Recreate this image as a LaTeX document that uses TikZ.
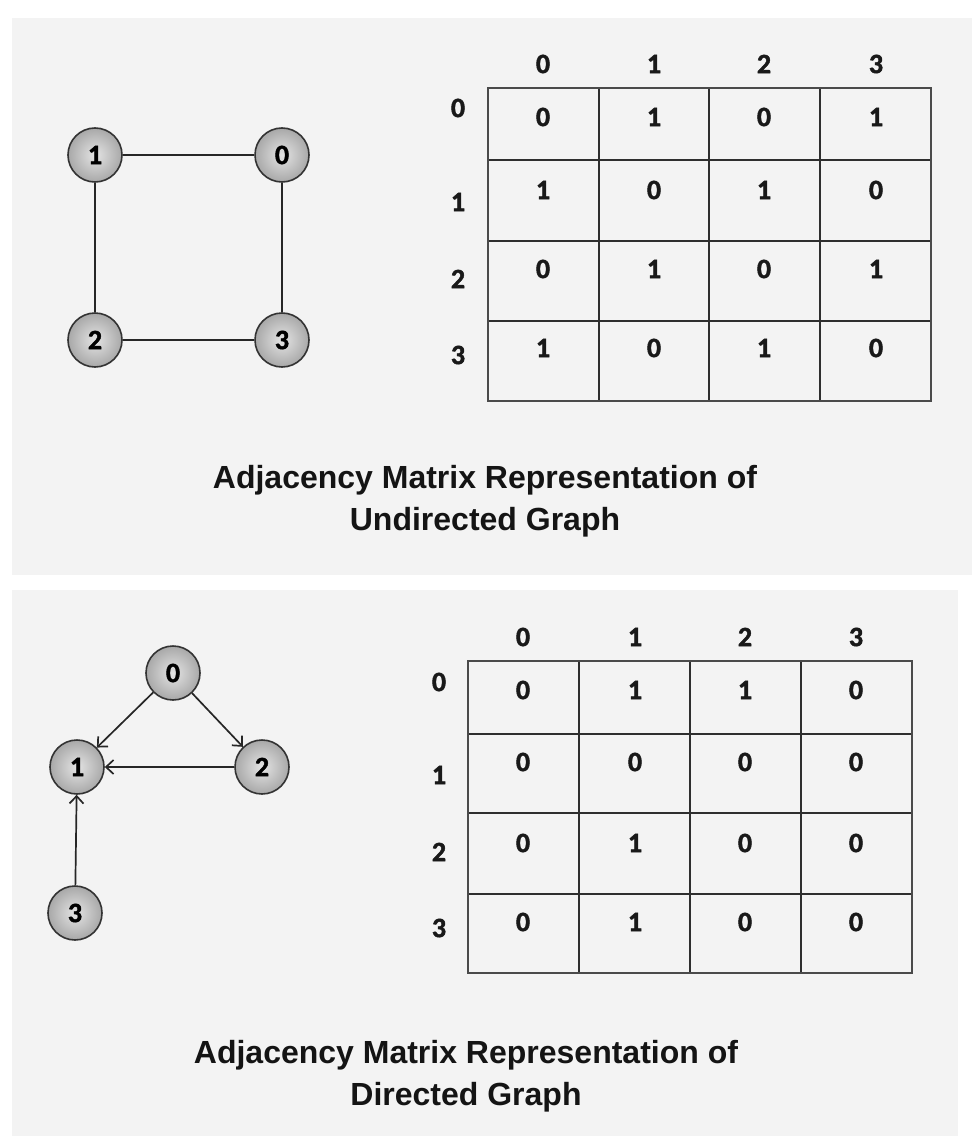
\documentclass[tikz,border=0pt]{standalone}
\usepackage{fontspec}
\setmainfont{Liberation Sans}
\newfontfamily\digitfont[BoldFeatures={FakeBold=1.6}]{Carlito}
\usetikzlibrary{arrows.meta}
\definecolor{panelbg}{HTML}{F3F3F3}
\definecolor{gridline}{HTML}{2E2E2E}
\definecolor{gridouter}{HTML}{4A4A4A}
\definecolor{nodeborder}{HTML}{333333}
\definecolor{nodeinner}{HTML}{E4E4E4}
\definecolor{nodeouter}{HTML}{A8A8A8}
\begin{document}
\begin{tikzpicture}[x=1pt,y=-1pt,
  vertex/.style={circle, minimum size=54pt, inner sep=0pt, draw=nodeborder, line width=1.6pt,
    inner color=nodeinner, outer color=nodeouter, font=\digitfont\bfseries\fontsize{28}{28}\selectfont},
  digit/.style={inner sep=0pt, font=\digitfont\bfseries\fontsize{28}{28}\selectfont, text=black!90},
  edge/.style={line width=1.7pt, draw=black!85},
  arc/.style={edge, -{Straight Barb[length=7.5pt,width=14pt]}},
  gridl/.style={line width=2pt, draw=gridline},
  gridb/.style={line width=2.6pt, draw=gridouter},
  title/.style={align=center, font=\bfseries\fontsize{32}{42}\selectfont, inner sep=0pt, text=black!92}]
\useasboundingbox (0,0) rectangle (972,1142);
\fill[white] (0,0) rectangle (972,1142);
\fill[panelbg] (12,18) rectangle (972,575);
\fill[panelbg] (12,590) rectangle (958,1136);

% ---------- top: undirected graph ----------
\node[vertex] (t1) at (95,155) {1};
\node[vertex] (t0) at (282,155) {0};
\node[vertex] (t2) at (95,340) {2};
\node[vertex] (t3) at (282,340) {3};
\draw[edge] (t1) -- (t0);
\draw[edge] (t1) -- (t2);
\draw[edge] (t0) -- (t3);
\draw[edge] (t2) -- (t3);

% top matrix grid
\foreach \x in {599,709,820} \draw[gridl] (\x,88) -- (\x,401);
\foreach \y in {160,241,321} \draw[gridl] (488,\y) -- (931,\y);
\draw[gridb] (488,88) rectangle (931,401);
% headers
\foreach \c/\x in {0/543,1/654,2/764,3/876} \node[digit] (tc\c) at (\x,64) {\c};
\foreach \r/\y in {0/108,1/202,2/279,3/355} \node[digit] (tr\r) at (458,\y) {\r};
% entries
\foreach \r/\y/\a/\b/\c/\d in {0/117/0/1/0/1, 1/190/1/0/1/0, 2/269/0/1/0/1, 3/348/1/0/1/0}{
  \node[digit] (te\r0) at (543,\y) {\a};
  \node[digit] (te\r1) at (654,\y) {\b};
  \node[digit] (te\r2) at (764,\y) {\c};
  \node[digit] (te\r3) at (876,\y) {\d};
}
\node[title] (ttitle) at (485,501) {Adjacency Matrix Representation of\\Undirected Graph};

% ---------- bottom: directed graph ----------
\node[vertex] (b0) at (173,673) {0};
\node[vertex] (b1) at (77,767) {1};
\node[vertex] (b2) at (262,767) {2};
\node[vertex] (b3) at (75,913) {3};
\draw[arc] (b0) -- (b1);
\draw[arc] (b0) -- (b2);
\draw[arc] (b2) -- (b1);
\draw[arc] (b3) -- (b1);

% bottom matrix grid
\foreach \x in {579,690,801} \draw[gridl] (\x,661) -- (\x,973);
\foreach \y in {734,813,894} \draw[gridl] (468,\y) -- (912,\y);
\draw[gridb] (468,661) rectangle (912,973);
\foreach \c/\x in {0/523,1/635,2/745,3/856} \node[digit] (bc\c) at (\x,637) {\c};
\foreach \r/\y in {0/682,1/775,2/852,3/928} \node[digit] (br\r) at (439,\y) {\r};
\foreach \r/\y/\a/\b/\c/\d in {0/690/0/1/1/0, 1/762/0/0/0/0, 2/843/0/1/0/0, 3/922/0/1/0/0}{
  \node[digit] (be\r0) at (523,\y) {\a};
  \node[digit] (be\r1) at (635,\y) {\b};
  \node[digit] (be\r2) at (745,\y) {\c};
  \node[digit] (be\r3) at (856,\y) {\d};
}
\node[title] (btitle) at (466,1076) {Adjacency Matrix Representation of\\Directed Graph};
\end{tikzpicture}
\end{document}
